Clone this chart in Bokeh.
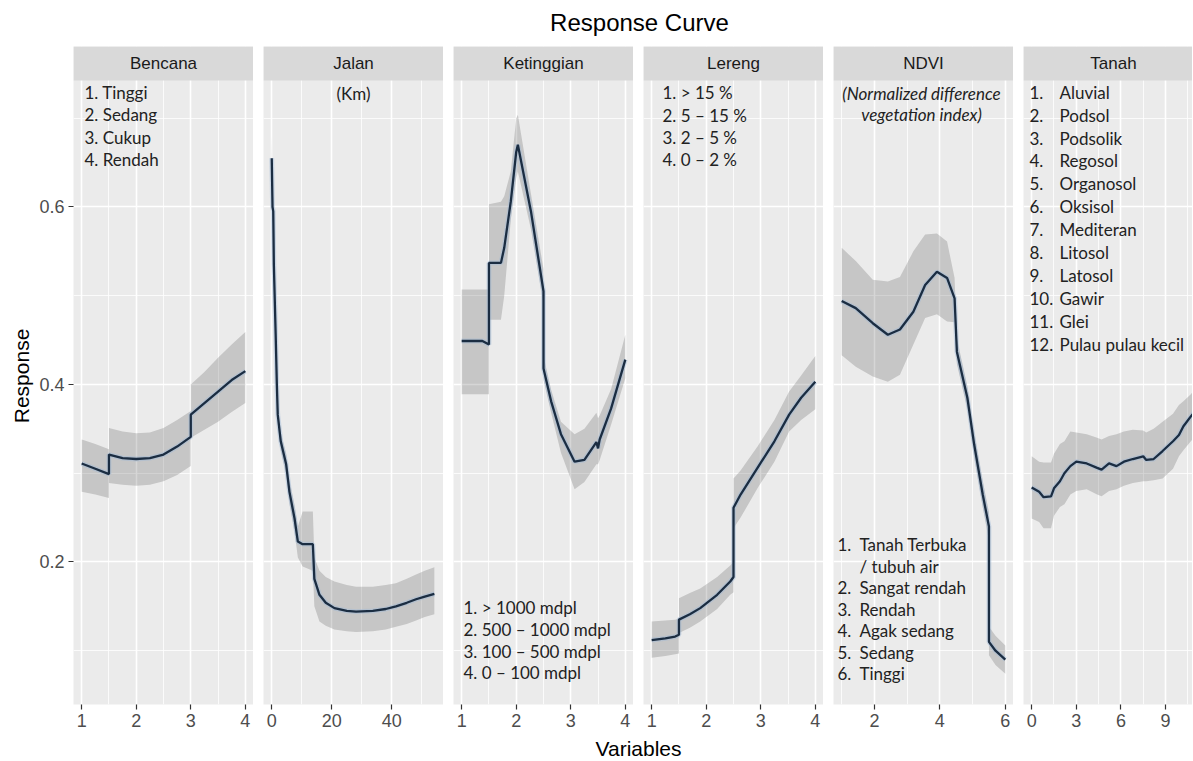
from bokeh.plotting import figure
from bokeh.layouts import row, column
from bokeh.models import Range1d, FixedTicker, BoxAnnotation, Label, ColumnDataSource
from bokeh.embed import file_html
from bokeh.resources import INLINE
import math

# ---------------- data ----------------
TITLE = "Response Curve"
X_TITLE = "Variables"
Y_TITLE = "Response"
facet_names = ["Bencana", "Jalan", "Ketinggian", "Lereng", "NDVI", "Tanah"]

bencana_x = [1.0, 1.25, 1.5, 1.5, 1.75, 2.0, 2.25, 2.5, 2.75, 3.0, 3.0, 3.25, 3.5, 3.75, 4.0]
bencana_y = [0.311, 0.305, 0.299, 0.321, 0.317, 0.316, 0.317, 0.321, 0.330, 0.341, 0.366, 0.379, 0.392, 0.405, 0.415]
bencana_lo = [0.279, 0.276, 0.272, 0.289, 0.287, 0.286, 0.287, 0.291, 0.298, 0.308, 0.340, 0.349, 0.358, 0.369, 0.379]
bencana_hi = [0.338, 0.333, 0.327, 0.351, 0.347, 0.345, 0.346, 0.351, 0.360, 0.370, 0.400, 0.414, 0.430, 0.445, 0.459]

jalan_x = [0.0, 0.25, 0.5, 0.7, 1.3, 1.7, 2.0, 3.0, 4.8, 5.9, 7.6, 8.7, 10.3, 13.7, 14.2, 15.9, 18.0,
           20.9, 25.0, 28.1, 33.7, 38.0, 41.4, 45.0, 48.1, 51.0, 54.2]
jalan_y = [0.655, 0.600, 0.595, 0.535, 0.457, 0.400, 0.366, 0.336, 0.310, 0.279, 0.249, 0.223, 0.220, 0.220,
           0.181, 0.163, 0.154, 0.148, 0.145, 0.144, 0.145, 0.147, 0.150, 0.154, 0.158, 0.161, 0.164]
jalan_lo = [0.640, 0.585, 0.580, 0.520, 0.445, 0.390, 0.356, 0.326, 0.298, 0.266, 0.234, 0.205, 0.195, 0.190,
            0.150, 0.133, 0.128, 0.124, 0.122, 0.121, 0.122, 0.124, 0.127, 0.130, 0.134, 0.138, 0.141]
jalan_hi = [0.682, 0.615, 0.610, 0.550, 0.470, 0.412, 0.376, 0.346, 0.322, 0.292, 0.264, 0.240, 0.257, 0.257,
            0.205, 0.190, 0.183, 0.178, 0.174, 0.172, 0.172, 0.174, 0.176, 0.181, 0.186, 0.190, 0.194]

ketinggian_x = [1.0, 1.38, 1.5, 1.5, 1.72, 1.78, 1.9, 2.0, 2.03, 2.27, 2.5, 2.5, 2.64, 2.82, 3.07, 3.25,
                3.47, 3.5, 3.53, 3.74, 4.0]
ketinggian_y = [0.449, 0.449, 0.445, 0.537, 0.537, 0.554, 0.606, 0.662, 0.670, 0.595, 0.505, 0.418, 0.381,
                0.344, 0.313, 0.315, 0.335, 0.328, 0.338, 0.373, 0.428]
ketinggian_lo = [0.389, 0.389, 0.389, 0.473, 0.473, 0.500, 0.585, 0.632, 0.640, 0.575, 0.490, 0.405, 0.368,
                 0.323, 0.282, 0.290, 0.310, 0.310, 0.315, 0.355, 0.407]
ketinggian_hi = [0.507, 0.507, 0.507, 0.603, 0.606, 0.612, 0.640, 0.700, 0.704, 0.615, 0.530, 0.432, 0.394,
                 0.358, 0.344, 0.350, 0.368, 0.362, 0.365, 0.395, 0.456]

lereng_x = [1.0, 1.25, 1.43, 1.5, 1.5, 1.7, 1.89, 2.2, 2.44, 2.5, 2.5, 2.63, 2.94, 3.25, 3.52, 3.74, 4.0]
lereng_y = [0.112, 0.114, 0.116, 0.118, 0.135, 0.141, 0.148, 0.163, 0.178, 0.183, 0.261, 0.276, 0.306,
            0.336, 0.366, 0.385, 0.403]
lereng_lo = [0.092, 0.094, 0.096, 0.097, 0.120, 0.126, 0.133, 0.147, 0.163, 0.166, 0.238, 0.250, 0.283,
             0.313, 0.347, 0.360, 0.372]
lereng_hi = [0.133, 0.134, 0.135, 0.136, 0.159, 0.165, 0.170, 0.183, 0.196, 0.200, 0.294, 0.303, 0.330,
             0.360, 0.392, 0.410, 0.432]

ndvi_x = [1.0, 1.43, 1.95, 2.41, 2.78, 3.19, 3.55, 3.91, 4.22, 4.45, 4.52, 4.84, 5.05, 5.31, 5.5, 5.5, 5.7, 6.0]
ndvi_y = [0.494, 0.486, 0.469, 0.456, 0.462, 0.482, 0.512, 0.527, 0.520, 0.497, 0.437, 0.385, 0.332, 0.276,
          0.240, 0.110, 0.100, 0.090]
ndvi_lo = [0.433, 0.420, 0.409, 0.403, 0.411, 0.445, 0.475, 0.479, 0.471, 0.470, 0.423, 0.372, 0.318, 0.262,
           0.224, 0.095, 0.084, 0.074]
ndvi_hi = [0.554, 0.539, 0.518, 0.516, 0.521, 0.550, 0.569, 0.570, 0.561, 0.520, 0.452, 0.398, 0.346, 0.291,
           0.256, 0.127, 0.117, 0.106]

tanah_x = [0.0, 0.5, 0.8, 1.3, 1.5, 1.9, 2.2, 2.6, 3.0, 3.7, 4.4, 4.7, 5.2, 5.7, 6.2, 6.8, 7.5, 7.7, 8.2,
           8.8, 9.5, 9.9, 10.2, 10.7, 11.0]
tanah_y = [0.284, 0.279, 0.273, 0.274, 0.283, 0.291, 0.300, 0.308, 0.313, 0.311, 0.306, 0.304, 0.311, 0.308,
           0.313, 0.316, 0.319, 0.315, 0.316, 0.325, 0.336, 0.343, 0.353, 0.364, 0.370]
tanah_lo = [0.249, 0.245, 0.238, 0.238, 0.252, 0.262, 0.265, 0.276, 0.280, 0.282, 0.276, 0.274, 0.280, 0.282,
            0.286, 0.289, 0.291, 0.291, 0.292, 0.294, 0.305, 0.319, 0.326, 0.336, 0.342]
tanah_hi = [0.319, 0.313, 0.312, 0.312, 0.322, 0.333, 0.336, 0.347, 0.346, 0.344, 0.340, 0.338, 0.342, 0.344,
            0.347, 0.349, 0.348, 0.346, 0.350, 0.358, 0.367, 0.377, 0.381, 0.389, 0.395]

# tick values
y_ticks = [0.2, 0.4, 0.6]
y_minor = [0.1, 0.3, 0.5, 0.7]
ticks_1to4 = [1, 2, 3, 4]
minor_1to4 = [1.5, 2.5, 3.5]
jalan_ticks = [0, 20, 40]
jalan_minor = [10, 30, 50]
ndvi_ticks = [2, 4, 6]
ndvi_minor = [1, 3, 5]
tanah_ticks = [0, 3, 6, 9]
tanah_minor = [1.5, 4.5, 7.5, 10.5]

# annotation texts
bencana_notes = ["1. Tinggi", "2. Sedang", "3. Cukup", "4. Rendah"]
jalan_notes = ["(Km)"]
ketinggian_notes = ["1. > 1000 mdpl", "2. 500 \u2013 1000 mdpl", "3. 100 \u2013 500 mdpl", "4. 0 \u2013 100 mdpl"]
lereng_notes = ["1. > 15 %", "2. 5 \u2013 15 %", "3. 2 \u2013 5 %", "4. 0 \u2013 2 %"]
ndvi_heading = ["(Normalized difference", "vegetation index)"]
ndvi_nums = ["1.", "", "2.", "3.", "4.", "5.", "6."]
ndvi_names = ["Tanah Terbuka", "/ tubuh air", "Sangat rendah", "Rendah", "Agak sedang", "Sedang", "Tinggi"]
tanah_nums = ["1.", "2.", "3.", "4.", "5.", "6.", "7.", "8.", "9.", "10.", "11.", "12."]
tanah_names = ["Aluvial", "Podsol", "Podsolik", "Regosol", "Organosol", "Oksisol", "Mediteran",
               "Litosol", "Latosol", "Gawir", "Glei", "Pulau pulau kecil"]

# ---------------- layout constants ----------------
TOTAL_W = 1192
YLAB_W = 34
FIRST_BORDER = 39
GAP = 10
PANEL_W = 180
STRIP_PX = 34
PANEL_PX = 624
AXIS_PX = 33
TITLE_H = 46
XLAB_H = 23
FIG_H = STRIP_PX + PANEL_PX + AXIS_PX

Y_BOT, Y_TOP = 0.0394, 0.7425
PPY = PANEL_PX / (Y_TOP - Y_BOT)
Y_END = Y_TOP + STRIP_PX / PPY

GG_FONT = "Liberation Sans"
NOTE_FONT = "Lato"
NOTE_SIZE = "17px"
NOTE_COLOR = "#222222"
LINE_COLOR = "#1B2D42"

panels = [
    dict(name=facet_names[0], x=bencana_x, y=bencana_y, lo=bencana_lo, hi=bencana_hi,
         xr=(0.85, 4.15), ticks=ticks_1to4, minor=minor_1to4),
    dict(name=facet_names[1], x=jalan_x, y=jalan_y, lo=jalan_lo, hi=jalan_hi,
         xr=(-2.75, 57.25), ticks=jalan_ticks, minor=jalan_minor),
    dict(name=facet_names[2], x=ketinggian_x, y=ketinggian_y, lo=ketinggian_lo, hi=ketinggian_hi,
         xr=(0.85, 4.15), ticks=ticks_1to4, minor=minor_1to4),
    dict(name=facet_names[3], x=lereng_x, y=lereng_y, lo=lereng_lo, hi=lereng_hi,
         xr=(0.85, 4.15), ticks=ticks_1to4, minor=minor_1to4),
    dict(name=facet_names[4], x=ndvi_x, y=ndvi_y, lo=ndvi_lo, hi=ndvi_hi,
         xr=(0.75, 6.25), ticks=ndvi_ticks, minor=ndvi_minor),
    dict(name=facet_names[5], x=tanah_x, y=tanah_y, lo=tanah_lo, hi=tanah_hi,
         xr=(-0.55, 11.55), ticks=tanah_ticks, minor=tanah_minor),
]


def note(p, xr, dx, dy, text, align="left", style="normal"):
    """Place a text note at a pixel offset (dx, dy) from the panel's top-left corner."""
    ppx = PANEL_W / (xr[1] - xr[0])
    p.add_layout(Label(x=xr[0] + dx / ppx, y=Y_TOP - dy / PPY, text=text,
                       text_align=align, text_baseline="middle", text_font=NOTE_FONT,
                       text_font_size=NOTE_SIZE, text_font_style=style, text_color=NOTE_COLOR))


figs = []
used_w = YLAB_W
for i, pan in enumerate(panels):
    first = i == 0
    last = i == len(panels) - 1
    border_left = FIRST_BORDER if first else GAP
    if last:
        width = TOTAL_W - used_w
    else:
        width = border_left + PANEL_W
    used_w += width
    frame_w = width - border_left
    xr = pan["xr"]
    x_end = xr[0] + (xr[1] - xr[0]) * frame_w / PANEL_W

    p = figure(width=width, height=FIG_H, x_range=Range1d(xr[0], x_end),
               y_range=Range1d(Y_BOT, Y_END), output_backend="svg", toolbar_location=None,
               y_axis_location="left" if first else None,
               min_border_left=border_left, min_border_right=0, min_border_top=0,
               min_border_bottom=AXIS_PX)
    p.background_fill_color = "#EBEBEB"
    p.border_fill_color = "white"
    p.outline_line_color = None

    xt = FixedTicker(ticks=pan["ticks"], minor_ticks=pan["minor"])
    yt = FixedTicker(ticks=y_ticks, minor_ticks=y_minor)
    p.xaxis.ticker = xt
    p.xgrid.ticker = xt
    p.ygrid.ticker = yt
    if first:
        p.yaxis.ticker = yt
    p.grid.grid_line_color = "white"
    p.grid.grid_line_width = 1.6
    p.grid.minor_grid_line_color = "white"
    p.grid.minor_grid_line_width = 0.8

    p.axis.axis_line_color = None
    p.axis.major_tick_line_color = "#333333"
    p.axis.major_tick_line_width = 1.2
    p.axis.major_tick_out = 5
    p.axis.major_tick_in = 0
    p.axis.minor_tick_line_color = None
    p.axis.major_label_text_color = "#4D4D4D"
    p.axis.major_label_text_font = GG_FONT
    p.axis.major_label_text_font_size = "18px"
    p.axis.major_label_standoff = 4

    src = ColumnDataSource(dict(x=pan["x"], y=pan["y"], lo=pan["lo"], hi=pan["hi"]))
    p.varea(x="x", y1="lo", y2="hi", source=src, fill_color="#333333", fill_alpha=0.2)
    p.line(x="x", y="y", source=src, line_color="#9DB9D6", line_width=4.8, line_alpha=0.45)
    p.line(x="x", y="y", source=src, line_color=LINE_COLOR, line_width=2.3)

    # facet strip
    p.add_layout(BoxAnnotation(bottom=Y_TOP, fill_color="#D9D9D9", fill_alpha=1.0,
                               line_color=None))
    p.add_layout(Label(x=(xr[0] + xr[1]) / 2, y=(Y_TOP + Y_END) / 2, text=pan["name"],
                       text_align="center", text_baseline="middle", text_font=GG_FONT,
                       text_font_size="17px", text_color="#1A1A1A"))
    figs.append(p)

# notes inside panels
for k, t in enumerate(bencana_notes):
    note(figs[0], panels[0]["xr"], 11, 11.7 + 22.4 * k, t)
note(figs[1], panels[1]["xr"], 90, 12.7, jalan_notes[0], align="center")
for k, t in enumerate(ketinggian_notes):
    note(figs[2], panels[2]["xr"], 10, 527 + 21.8 * k, t)
for k, t in enumerate(lereng_notes):
    note(figs[3], panels[3]["xr"], 19, 12.3 + 22.2 * k, t)
for k, t in enumerate(ndvi_heading):
    note(figs[4], panels[4]["xr"], 88, 13 + 20.5 * k, t, align="center", style="italic")
for k, (n, t) in enumerate(zip(ndvi_nums, ndvi_names)):
    if n:
        note(figs[4], panels[4]["xr"], 4, 464.3 + 21.45 * k, n)
    note(figs[4], panels[4]["xr"], 26, 464.3 + 21.45 * k, t)
for k, (n, t) in enumerate(zip(tanah_nums, tanah_names)):
    note(figs[5], panels[5]["xr"], 6, 11.7 + 22.9 * k, n)
    note(figs[5], panels[5]["xr"], 36, 11.7 + 22.9 * k, t)


def blank(width, height):
    f = figure(width=width, height=height, x_range=Range1d(0, width), y_range=Range1d(0, height),
               output_backend="svg", toolbar_location=None, x_axis_location=None,
               y_axis_location=None, min_border=0)
    f.grid.visible = False
    f.outline_line_color = None
    f.background_fill_color = "white"
    f.border_fill_color = "white"
    return f


title_fig = blank(TOTAL_W, TITLE_H)
title_fig.add_layout(Label(x=639, y=TITLE_H - 22, text=TITLE, text_align="center",
                           text_baseline="middle", text_font=GG_FONT, text_font_size="24px",
                           text_color="black"))

ylab_fig = blank(YLAB_W, FIG_H)
ylab_fig.add_layout(Label(x=20.5, y=FIG_H - (STRIP_PX + PANEL_PX / 2), text=Y_TITLE, angle=math.pi / 2,
                          text_align="center", text_baseline="middle", text_font=GG_FONT,
                          text_font_size="21px", text_color="black"))

xlab_fig = blank(TOTAL_W, XLAB_H)
xlab_fig.add_layout(Label(x=638, y=XLAB_H - 11, text=X_TITLE, text_align="center",
                          text_baseline="middle", text_font=GG_FONT, text_font_size="21px",
                          text_color="black"))

layout = column(title_fig, row(ylab_fig, *figs), xlab_fig)

open("out.html", "w").write(file_html(layout, INLINE))
